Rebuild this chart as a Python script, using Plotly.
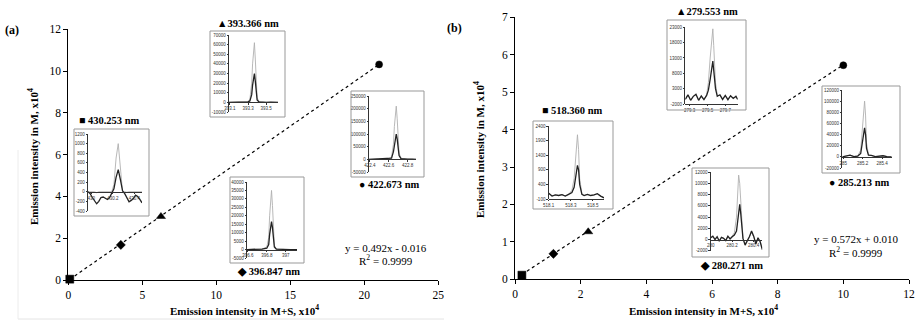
import plotly.graph_objects as go

W, H = 918, 321

# ---------------- main data ----------------
a_x = [0.1, 3.55, 6.26, 21.0]
a_y = [0.04, 1.68, 3.04, 10.32]
b_x = [0.21, 1.17, 2.23, 10.0]
b_y = [0.11, 0.68, 1.27, 5.72]
symbols = ["square", "diamond", "triangle-up", "circle"]
a_slope, a_intercept = 0.492, -0.016
b_slope, b_intercept = 0.572, 0.010

a_xticks = [0, 5, 10, 15, 20, 25]
a_yticks = [0, 2, 4, 6, 8, 10, 12]
b_xticks = [0, 2, 4, 6, 8, 10, 12]
b_yticks = [0, 1, 2, 3, 4, 5, 6, 7]

# ---------------- inset spectra ----------------
wl_a1 = [429.97, 429.99, 430.01, 430.03, 430.05, 430.07, 430.09, 430.11, 430.13, 430.15, 430.17, 430.19, 430.21,
         430.23, 430.25, 430.27, 430.29, 430.31, 430.33, 430.35, 430.37, 430.39, 430.41, 430.43, 430.45, 430.47]
m_a1 = [0, -40, -120, -180, -250, -200, -120, -110, -140, -160, -120, -20, 60, 300, 460, 250, 20, -40, -120,
        -210, -180, -140, -70, -100, -160, -230]
ms_a1 = [0, 0, -10, 0, -20, 0, 0, 0, -10, 0, 0, 0, 150, 700, 1000, 450, 0, 0, -10, 0, 0, -10, 0, 0, 0, 0]

wl_a2 = [393.09, 393.15, 393.2, 393.25, 393.3, 393.32, 393.34, 393.35, 393.36, 393.37, 393.38, 393.39, 393.4,
         393.42, 393.45, 393.5, 393.55, 393.6, 393.63]
m_a2 = [0, 200, 100, 300, 500, 1500, 8000, 18000, 28000, 30000, 22000, 10000, 2500, 500, 200, 100, 200, 0, 100]
ms_a2 = [0, 100, 0, 200, 500, 3000, 20000, 40000, 58000, 62000, 45000, 20000, 5000, 800, 200, 100, 0, 0, 0]

wl_a3 = [422.39, 422.45, 422.5, 422.55, 422.6, 422.63, 422.65, 422.66, 422.67, 422.68, 422.69, 422.7, 422.71,
         422.73, 422.76, 422.8, 422.85, 422.89]
m_a3 = [0, 1000, 500, 1000, 2000, 5000, 30000, 60000, 90000, 100000, 80000, 45000, 15000, 3000, 1000, 500, 1000, 0]
ms_a3 = [0, 500, 0, 1000, 3000, 10000, 60000, 130000, 190000, 210000, 160000, 80000, 25000, 5000, 1000, 500, 0, 0]

wl_a4 = [396.59, 396.65, 396.7, 396.75, 396.8, 396.82, 396.83, 396.84, 396.85, 396.86, 396.87, 396.88, 396.9,
         396.95, 397.0, 397.05, 397.12]
m_a4 = [0, 200, 0, 300, 800, 3000, 9000, 15000, 16500, 13000, 6000, 1500, 300, 100, 200, 0, 0]
ms_a4 = [0, 100, 0, 300, 1500, 7000, 20000, 32000, 35000, 26000, 11000, 2500, 400, 100, 0, 0, 0]

wl_b1 = [518.1, 518.13, 518.16, 518.19, 518.22, 518.25, 518.28, 518.31, 518.33, 518.35, 518.36, 518.37, 518.38,
         518.4, 518.42, 518.45, 518.48, 518.51, 518.54, 518.57, 518.6]
m_b1 = [100, 0, 40, 20, 50, 0, 60, 120, 300, 800, 1050, 900, 400, 60, 20, 60, 20, 40, 80, 0, -60]
ms_b1 = [100, 0, 40, 20, 50, 0, 60, 200, 600, 1700, 2100, 1600, 600, 80, 20, 60, 20, 40, 80, 0, -60]

wl_b2 = [279.25, 279.28, 279.31, 279.34, 279.37, 279.4, 279.43, 279.46, 279.49, 279.51, 279.53, 279.55, 279.56,
         279.57, 279.59, 279.61, 279.64, 279.67, 279.7, 279.73, 279.76, 279.79, 279.82, 279.84]
m_b2 = [-500, 1000, -800, 500, 1200, -800, 600, -600, 800, 2500, 6000, 11500, 12000, 9000, 3000, 500, 1000, -500,
        800, -600, 700, -200, 500, -500]
ms_b2 = [-500, 900, -700, 500, 1000, -700, 500, -500, 1000, 5000, 13000, 21000, 22500, 17000, 5000, 800, 800, -400,
         600, -500, 600, -100, 400, -500]

wl_b3 = [284.99, 285.03, 285.07, 285.11, 285.15, 285.18, 285.2, 285.21, 285.22, 285.23, 285.24, 285.26, 285.29,
         285.33, 285.37, 285.41, 285.45, 285.5]
m_b3 = [0, 1000, 3000, 500, 1500, 6000, 30000, 48000, 52000, 40000, 15000, 3000, 2500, 500, 1000, 2000, 500, 0]
ms_b3 = [0, 1000, 3000, 500, 2000, 12000, 60000, 92000, 100000, 75000, 25000, 4000, 2500, 500, 1000, 2000, 500, 0]

wl_b4 = [280.0, 280.02, 280.04, 280.06, 280.08, 280.1, 280.12, 280.14, 280.16, 280.18, 280.2, 280.22, 280.24,
         280.25, 280.26, 280.27, 280.28, 280.29, 280.3, 280.32, 280.34, 280.36, 280.38, 280.4, 280.42, 280.44,
         280.46, 280.48]
m_b4 = [300, 600, 0, 500, -300, 400, 200, -200, 600, 100, 500, 800, 1500, 3000, 5500, 6300, 4500, 2000, 200,
        -1000, -300, 500, 1500, 600, -800, 300, -400, -1800]
ms_b4 = [300, 500, 100, 400, -200, 300, 200, -100, 500, 200, 600, 1200, 4000, 8000, 11500, 10000, 6000, 2500,
         300, -800, -200, 400, 1200, 500, -600, 200, -300, -1500]

SERIF = "Liberation Serif"


def px(x):
    return x / W


def py(y):
    return 1 - y / H


fig = go.Figure()
layout = dict(
    width=W, height=H, margin=dict(l=0, r=0, t=0, b=0, autoexpand=False),
    paper_bgcolor="white", plot_bgcolor="white", showlegend=False,
    font=dict(family=SERIF, color="black"),
)

main_axis = dict(showline=True, linecolor="black", linewidth=1, ticks="outside", ticklen=4,
                 tickcolor="black", showgrid=False, zeroline=False, automargin=False,
                 tickfont=dict(family=SERIF, size=11.5, color="black"))

layout["xaxis"] = dict(main_axis, domain=[px(68.3), px(438.3)], range=[0, 25], tickvals=a_xticks, anchor="y")
layout["yaxis"] = dict(main_axis, domain=[py(280), py(29.3)], range=[0, 12], tickvals=a_yticks, anchor="x")
layout["xaxis2"] = dict(main_axis, domain=[px(515), px(909)], range=[0, 12], tickvals=b_xticks, anchor="y2")
layout["yaxis2"] = dict(main_axis, domain=[py(279.3), py(17.3)], range=[0, 7], tickvals=b_yticks, anchor="x2")

for xs, ys, sl, ic, xa, ya in [(a_x, a_y, a_slope, a_intercept, "x", "y"),
                               (b_x, b_y, b_slope, b_intercept, "x2", "y2")]:
    x0, x1 = min(xs), max(xs)
    fig.add_trace(go.Scatter(x=[x0, x1], y=[sl * x0 + ic, sl * x1 + ic], mode="lines",
                             line=dict(color="black", width=1.2, dash="dot"), xaxis=xa, yaxis=ya,
                             hoverinfo="skip"))
    fig.add_trace(go.Scatter(x=xs, y=ys, mode="markers", cliponaxis=False, opacity=1,
                             marker=dict(symbol=symbols, size=[8, 7, 8, 7], color="black", opacity=1,
                                         line=dict(color="black", width=0.5)),
                             xaxis=xa, yaxis=ya))

# inset specs
insets = [
    (wl_a1, m_a1, ms_a1, (74, 129, 149, 216), (88, 142), (134, 211), (-400, 1200), 200,
     [430.0, 430.2, 430.4], ["430", "430.2", "430.4"], 0),
    (wl_a2, m_a2, ms_a2, (210, 31, 285, 117), (229, 278), (35, 112), (-10000, 70000), 10000,
     [393.1, 393.3, 393.5], ["393.1", "393.3", "393.5"], 0),
    (wl_a3, m_a3, ms_a3, (351, 91, 424, 177), (369, 416), (96, 172), (-50000, 250000), 50000,
     [422.4, 422.6, 422.8], ["422.4", "422.6", "422.8"], 0),
    (wl_a4, m_a4, ms_a4, (230, 177, 304, 263), (247, 297), (182, 258), (-5000, 40000), 5000,
     [396.6, 396.8, 397.0], ["396.6", "396.8", "397"], 0),
    (wl_b1, m_b1, ms_b1, (533, 121, 613, 209), (548.7, 604), (126, 199), (-100, 2400), 500,
     [518.1, 518.3, 518.5], ["518.1", "518.3", "518.5"], -100),
    (wl_b2, m_b2, ms_b2, (667, 20, 746, 110), (685.3, 737.7), (27.3, 104), (-2000, 23000), 5000,
     [279.3, 279.5, 279.7], ["279.3", "279.5", "279.7"], -2000),
    (wl_b3, m_b3, ms_b3, (822, 86, 900, 173), (842.3, 891.7), (90, 168), (-20000, 120000), 20000,
     [285.0, 285.2, 285.4], ["285", "285.2", "285.4"], 0),
    (wl_b4, m_b4, ms_b4, (692, 168, 769, 257), (710.7, 762.3), (172.3, 250.7), (-2000, 12000), 2000,
     [280.0, 280.2, 280.4], ["280", "280.2", "280.4"], 0),
]

shapes = []
inset_font = dict(family="Liberation Sans", size=4.5, color="#333")
for i, (wl, m, ms, box, axx, axy, yr, ystep, xtv, xtt, xcross) in enumerate(insets):
    n = i + 3
    xa, ya = f"x{n}", f"y{n}"
    ydom = [py(axy[1]), py(axy[0])]
    pos = ydom[0] + (xcross - yr[0]) / (yr[1] - yr[0]) * (ydom[1] - ydom[0])
    yt = list(range(yr[0], yr[1] + 1, ystep))
    layout[f"xaxis{n}"] = dict(domain=[px(axx[0]), px(axx[1])], range=[wl[0], wl[-1]], anchor="free",
                               position=pos, showline=True, linecolor="#333", linewidth=0.8,
                               ticks="outside", ticklen=1.5, tickcolor="#333", tickvals=xtv, ticktext=xtt,
                               tickfont=inset_font, showgrid=False, zeroline=False, automargin=False)
    layout[f"yaxis{n}"] = dict(domain=ydom, range=list(yr), anchor=xa, showline=True, linecolor="#333",
                               linewidth=0.8, ticks="outside", ticklen=1.5, tickcolor="#333", tickvals=yt,
                               ticktext=[str(v) for v in yt],
                               tickfont=inset_font, showgrid=False, zeroline=False, automargin=False)
    fig.add_trace(go.Scatter(x=wl, y=ms, mode="lines", line=dict(color="#b0b0b0", width=0.9),
                             xaxis=xa, yaxis=ya, hoverinfo="skip"))
    fig.add_trace(go.Scatter(x=wl, y=m, mode="lines", line=dict(color="#222", width=1.3),
                             xaxis=xa, yaxis=ya, hoverinfo="skip"))
    shapes.append(dict(type="rect", xref="paper", yref="paper", x0=px(box[0]), x1=px(box[2]),
                       y0=py(box[3]), y1=py(box[1]), line=dict(color="#999", width=1)))

# faint panel frames
shapes.append(dict(type="line", xref="paper", yref="paper", x0=px(18), x1=px(444), y0=py(319), y1=py(319),
                   line=dict(color="#e4e4e4", width=1)))
shapes.append(dict(type="line", xref="paper", yref="paper", x0=px(18), x1=px(18), y0=py(319), y1=py(150),
                   line=dict(color="#ececec", width=1)))
layout["shapes"] = shapes

ann = []


def text(x, y, s, size=11, bold=False, angle=0):
    ann.append(dict(x=px(x), y=py(y), xref="paper", yref="paper", text=f"<b>{s}</b>" if bold else s,
                    showarrow=False, xanchor="center", yanchor="middle", textangle=angle,
                    font=dict(family=SERIF, size=size, color="black")))


text(11.5, 30.5, "(a)", 12, True)
text(454, 28, "(b)", 12, True)
text(109, 120, "■ 430.253 nm", 10.5, True)
text(248, 23, "▲393.366 nm", 10.5, True)
text(389, 185, "● 422.673 nm", 10.5, True)
text(268, 271, "◆ 396.847 nm", 10.5, True)
text(386, 248, "y = 0.492x - 0.016", 11)
text(386, 260, "R<sup>2</sup> = 0.9999", 11)
text(572, 111, "■ 518.360 nm", 10.5, True)
text(707, 11, "▲279.553 nm", 10.5, True)
text(859.5, 183, "● 285.213 nm", 10.5, True)
text(731, 265, "◆ 280.271 nm", 10.5, True)
text(855.5, 239, "y = 0.572x + 0.010", 11)
text(855.5, 252, "R<sup>2</sup> = 0.9999", 11)
text(33, 157, "Emission intensity in M, x10<sup>4</sup>", 11, True, -90)
text(479, 149, "Emission intensity in M, x10<sup>4</sup>", 11, True, -90)
text(245, 310, "Emission intensity in M+S, x10<sup>4</sup>", 11, True)
text(703.5, 310, "Emission intensity in M+S, x10<sup>4</sup>", 11, True)
layout["annotations"] = ann

fig.update_layout(**layout)
fig.write_html("out.html", config={"displayModeBar": False},
               post_script="document.body.style.margin='0';document.body.style.overflow='hidden';")
